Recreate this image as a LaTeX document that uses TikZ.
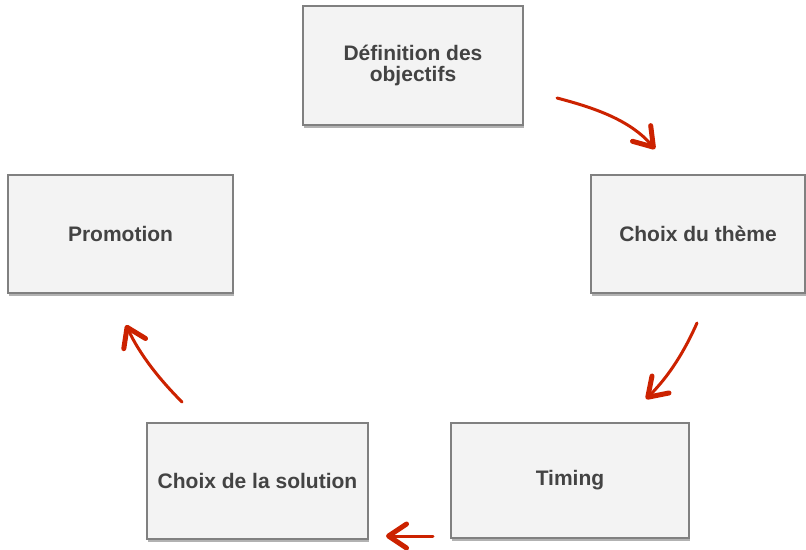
\documentclass[tikz,border=0pt]{standalone}
\usepackage{fontspec}
\setmainfont{Liberation Sans}
\usetikzlibrary{arrows.meta,shadows}
\definecolor{boxfill}{RGB}{243,243,243}
\definecolor{boxdraw}{RGB}{128,128,128}
\definecolor{txt}{RGB}{67,67,67}
\definecolor{arr}{RGB}{204,34,0}
\tikzset{
  stepbox/.style={draw=boxdraw, line width=1.2pt, fill=boxfill, inner sep=0pt,
    text=txt, font=\fontsize{21}{21.5}\selectfont\bfseries, align=center,
    drop shadow={shadow xshift=1pt, shadow yshift=-3pt, opacity=0.3, fill=black}},
  redarrow/.style={draw=arr, line width=3pt, line cap=round,
    -{Straight Barb[length=18pt, width=24pt, line width=5pt, round]}}
}
\begin{document}
\begin{tikzpicture}[x=1pt,y=-1pt]
\useasboundingbox (0,0) rectangle (806,549);
\node[stepbox, minimum width=220pt, minimum height=119pt] (def) at (413,65.5) {Définition des\\objectifs};
\node[stepbox, minimum width=214pt, minimum height=118pt] (theme) at (698,234) {Choix du thème};
\node[stepbox, minimum width=225pt, minimum height=118pt] (promo) at (120.5,234) {Promotion};
\node[stepbox, minimum width=238pt, minimum height=115pt] (timing) at (570,480.5) {Timing};
\node[stepbox, minimum width=221pt, minimum height=116pt] (sol) at (257.5,481) {Choix de la solution};
\coordinate (a1s) at (557,98);
\coordinate (a1e) at (655,149);
\coordinate (a2s) at (697,323);
\coordinate (a2e) at (646,399);
\coordinate (a3s) at (433,536);
\coordinate (a3e) at (386,536);
\coordinate (a4s) at (182,402);
\coordinate (a4e) at (126,325);
\draw[redarrow] (a1s) .. controls (595,108) and (630,120) .. (a1e);
\draw[redarrow] (a2s) .. controls (685,350) and (670,375) .. (a2e);
\draw[redarrow] (a3s) -- (a3e);
\draw[redarrow] (a4s) .. controls (160,380) and (140,355) .. (a4e);
\end{tikzpicture}
\end{document}
